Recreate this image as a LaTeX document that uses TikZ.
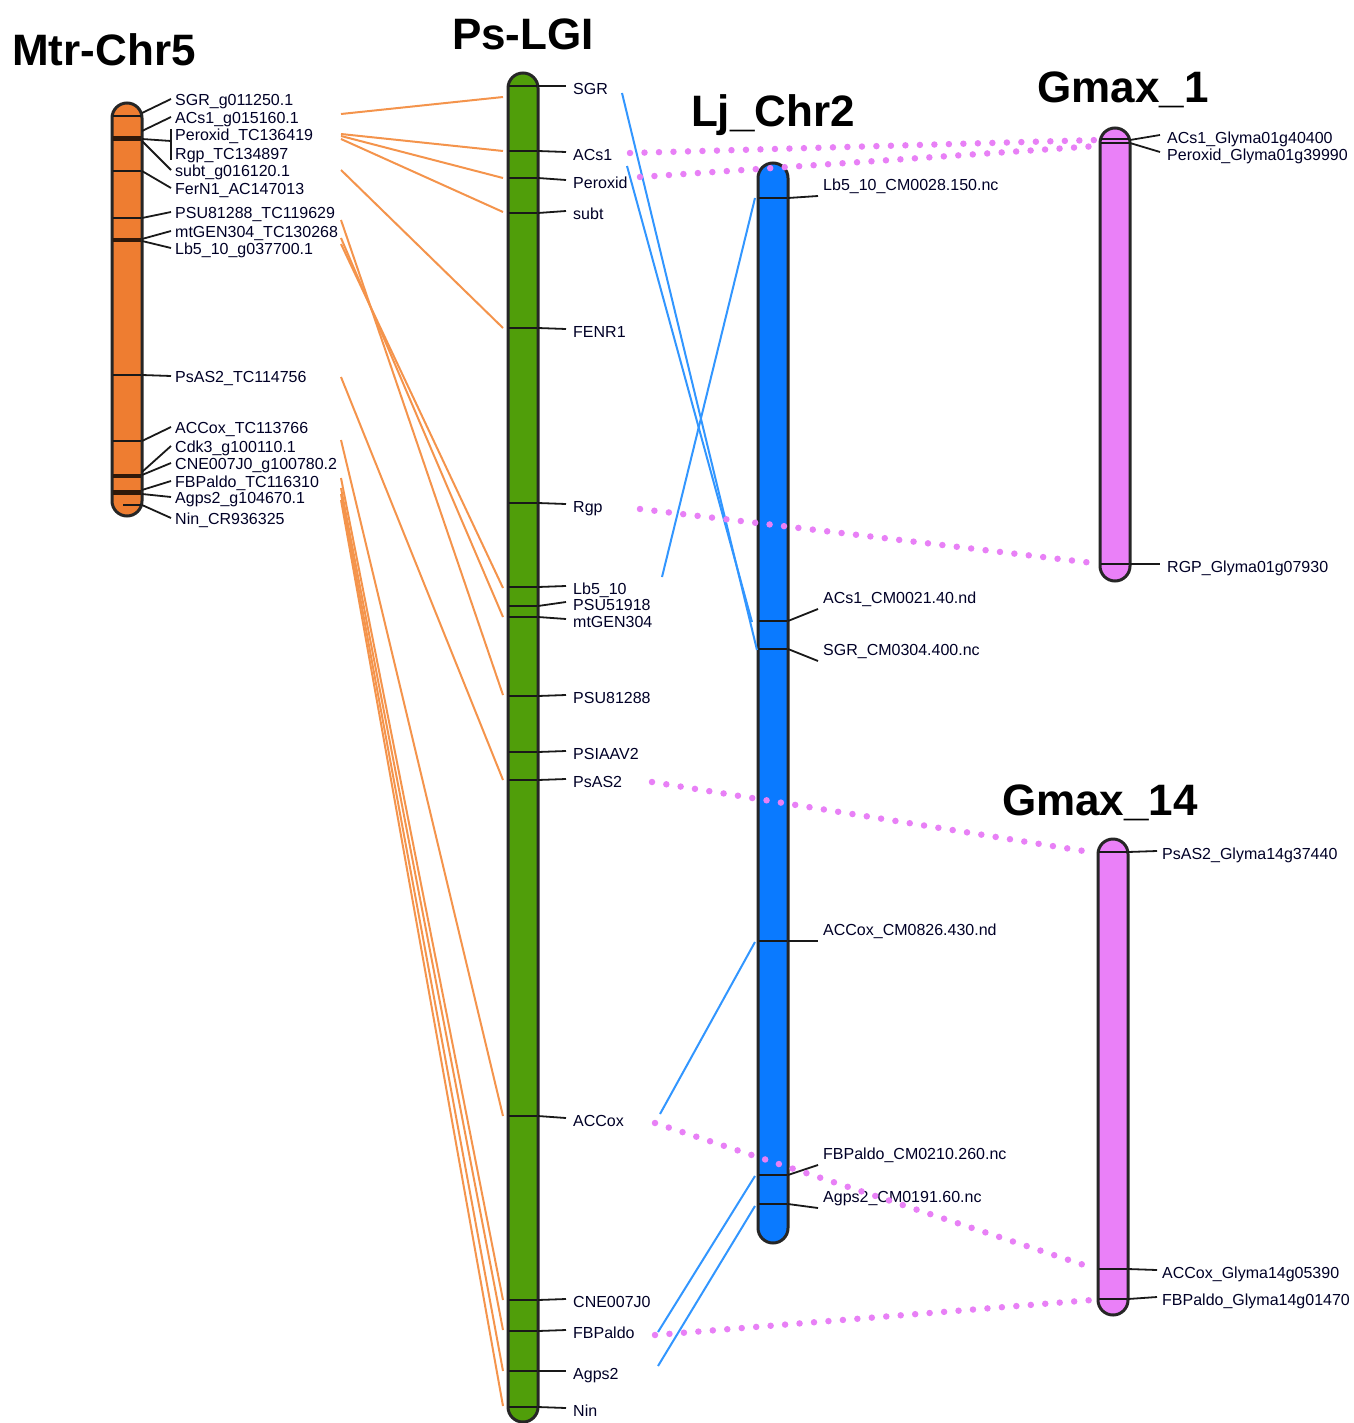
\documentclass[tikz,border=0pt]{standalone}
\usepackage{fontspec}
\setmainfont{Liberation Sans}
\definecolor{mtrorange}{RGB}{238,125,49}
\definecolor{psgreen}{RGB}{80,158,10}
\definecolor{ljblue}{RGB}{10,122,255}
\definecolor{gmaxpink}{RGB}{234,128,248}
\definecolor{orlinkcol}{RGB}{244,148,76}
\definecolor{bllinkcol}{RGB}{50,150,255}
\definecolor{dotcol}{RGB}{232,128,246}
\begin{document}
\begin{tikzpicture}[x=1pt,y=-1pt,
                chrom/.style={draw=black!85,line width=3pt,rounded corners=15pt,minimum width=30pt,inner sep=0pt},
                band/.style={black!90,line width=2pt},
                darkband/.style={black!80!mtrorange,line width=4.5pt},
                lead/.style={black!90,line width=1.8pt},
                glab/.style={anchor=west,inner sep=0pt,text height=11pt,text depth=0pt,font=\fontsize{16}{18}\selectfont,text=black!85!blue},
                chrname/.style={anchor=base,inner sep=0pt,font=\fontsize{44}{48}\selectfont\bfseries},
                orlink/.style={orlinkcol,line width=2pt},
                bllink/.style={bllinkcol,line width=2pt},
                dotlink/.style={dotcol,line width=6.5pt,line cap=round,dash pattern=on 0pt off 14.5pt}]
                \useasboundingbox (0,0) rectangle (1353,1423);

                \node[chrname] (t-mtr) at (104,66) {Mtr-Chr5};
                \node[chrname] (t-ps) at (523,50) {Ps-LGI};
                \node[chrname] (t-lj) at (773,127) {Lj\_Chr2};
                \node[chrname] (t-g1) at (1123,103) {Gmax\_1};
                \node[chrname] (t-g14) at (1100,815) {Gmax\_14};

                \node[chrom,fill=mtrorange,minimum height=413pt] (mtr) at (127,309.5) {};
                \node[chrom,fill=psgreen,minimum height=1349pt] (ps) at (523,747.5) {};
                \node[chrom,fill=ljblue,minimum height=1080pt] (lj) at (773,703) {};
                \node[chrom,fill=gmaxpink,minimum height=453pt] (g1) at (1115,354.5) {};
                \node[chrom,fill=gmaxpink,minimum height=476pt] (g14) at (1113,1077) {};

                \foreach \y in {116,171,218,375,441}
                    \draw[band] (113,\y) -- (141,\y);
                \foreach \y in {138.5,240,476,492.5}
                    \draw[darkband] (113,\y) -- (141,\y);
                \draw[band] (123,505) -- (141,505);
                \foreach \y in {86,151,178,213,328,503,587,606,617,696,752,780,1116,1300,1331,1371,1407}
                    \draw[band] (509,\y) -- (537,\y);
                \foreach \y in {198,621,649,941,1175,1204}
                    \draw[band] (759,\y) -- (787,\y);
                \foreach \y in {139,143,564}
                    \draw[band] (1101,\y) -- (1129,\y);
                \foreach \y in {852,1269,1299}
                    \draw[band] (1099,\y) -- (1127,\y);

                \node[glab] (m-sgr) at (175,100) {SGR\_g011250.1};
                \node[glab] (m-acs) at (175,118) {ACs1\_g015160.1};
                \node[glab] (m-per) at (175,135) {Peroxid\_TC136419};
                \node[glab] (m-rgp) at (175,154) {Rgp\_TC134897};
                \node[glab] (m-sub) at (175,171) {subt\_g016120.1};
                \node[glab] (m-fer) at (175,189) {FerN1\_AC147013};
                \node[glab] (m-psu) at (175,213) {PSU81288\_TC119629};
                \node[glab] (m-mtg) at (175,232) {mtGEN304\_TC130268};
                \node[glab] (m-lb) at (175,249) {Lb5\_10\_g037700.1};
                \node[glab] (m-psas) at (175,377) {PsAS2\_TC114756};
                \node[glab] (m-acc) at (175,428) {ACCox\_TC113766};
                \node[glab] (m-cdk) at (175,447) {Cdk3\_g100110.1};
                \node[glab] (m-cne) at (175,464) {CNE007J0\_g100780.2};
                \node[glab] (m-fbp) at (175,482) {FBPaldo\_TC116310};
                \node[glab] (m-agp) at (175,498) {Agps2\_g104670.1};
                \node[glab] (m-nin) at (175,519) {Nin\_CR936325};
                \foreach \n/\y in {sgr/113,acs/131,sub/141,fer/171,psu/218,mtg/239,lb/241,psas/375,acc/441,cdk/472,cne/475,fbp/490,agp/494,nin/505}
                    \draw[lead] (142,\y) -- ([xshift=-4pt,yshift=1pt]m-\n.west);
                \draw[lead] (142,139) -- (171,141);
                \draw[lead] ([xshift=-4pt]m-per.north west) -- ([xshift=-4pt]m-rgp.south west);

                \node[glab] (p-sgr) at (573,89) {SGR};
                \node[glab] (p-acs) at (573,155) {ACs1};
                \node[glab] (p-per) at (573,183) {Peroxid};
                \node[glab] (p-sub) at (573,214) {subt};
                \node[glab] (p-fen) at (573,332) {FENR1};
                \node[glab] (p-rgp) at (573,507) {Rgp};
                \node[glab] (p-lb) at (573,589) {Lb5\_10};
                \node[glab] (p-psu5) at (573,605) {PSU51918};
                \node[glab] (p-mtg) at (573,622) {mtGEN304};
                \node[glab] (p-psu8) at (573,698) {PSU81288};
                \node[glab] (p-psi) at (573,754) {PSIAAV2};
                \node[glab] (p-psas) at (573,782) {PsAS2};
                \node[glab] (p-acc) at (573,1121) {ACCox};
                \node[glab] (p-cne) at (573,1302) {CNE007J0};
                \node[glab] (p-fbp) at (573,1333) {FBPaldo};
                \node[glab] (p-agp) at (573,1374) {Agps2};
                \node[glab] (p-nin) at (573,1411) {Nin};
                \foreach \n/\y in {sgr/86,acs/151,per/178,sub/213,fen/328,rgp/503,lb/587,psu5/606,mtg/617,psu8/696,psi/752,psas/780,acc/1116,cne/1300,fbp/1331,agp/1371,nin/1407}
                    \draw[lead] (538,\y) -- ([xshift=-7pt,yshift=3pt]p-\n.west);

                \node[glab] (l-lb) at (823,185) {Lb5\_10\_CM0028.150.nc};
                \node[glab] (l-acs) at (823,598) {ACs1\_CM0021.40.nd};
                \node[glab] (l-sgr) at (823,650) {SGR\_CM0304.400.nc};
                \node[glab] (l-acc) at (823,930) {ACCox\_CM0826.430.nd};
                \node[glab] (l-fbp) at (823,1154) {FBPaldo\_CM0210.260.nc};
                \node[glab] (l-agp) at (823,1197) {Agps2\_CM0191.60.nc};
                \foreach \n/\y in {lb/198,acs/621,sgr/649,acc/941,fbp/1175,agp/1204}
                    \draw[lead] (788,\y) -- ([xshift=-5pt,yshift=-5.5pt]l-\n.base west);

                \node[glab] (g1-acs) at (1167,138) {ACs1\_Glyma01g40400};
                \node[glab] (g1-per) at (1167,155) {Peroxid\_Glyma01g39990};
                \node[glab] (g1-rgp) at (1167,567) {RGP\_Glyma01g07930};
                \foreach \n/\y in {acs/140,per/143,rgp/564}
                    \draw[lead] (1130,\y) -- ([xshift=-7pt,yshift=3pt]g1-\n.west);

                \node[glab] (g14-psas) at (1162,854) {PsAS2\_Glyma14g37440};
                \node[glab] (g14-acc) at (1162,1273) {ACCox\_Glyma14g05390};
                \node[glab] (g14-fbp) at (1162,1300) {FBPaldo\_Glyma14g01470};
                \foreach \n/\y in {psas/852,acc/1269,fbp/1299}
                    \draw[lead] (1128,\y) -- ([xshift=-5pt,yshift=3pt]g14-\n.west);

                \foreach \n/\y in {sgr/114,acs/134,per/136,sub/139,fer/170,psu/220,mtg/238,lb/244,psas/377,acc/440,cne/478,fbp/488,agp/494,nin/500}
                    \coordinate (mo-\n) at (341,\y);
                \foreach \n/\y in {sgr/97,acs/151,per/178,sub/212,fer/328,psu/695,mtg/617,lb/588,psas/780,acc/1116,cne/1300,fbp/1330,agp/1371,nin/1406}
                    \coordinate (po-\n) at (503,\y);
                \foreach \n in {sgr,acs,per,sub,fer,psu,mtg,lb,psas,acc,cne,fbp,agp,nin}
                    \draw[orlink] (mo-\n) -- (po-\n);

                \coordinate (pb-sgr) at (622,93);
                \coordinate (pb-acs) at (627,166);
                \coordinate (pb-lb) at (662,577);
                \coordinate (pb-acc) at (660,1114);
                \coordinate (pb-fbp) at (658,1332);
                \coordinate (pb-agp) at (658,1366);
                \coordinate (lb-sgr) at (757,650);
                \coordinate (lb-acs) at (752,622);
                \coordinate (lb-lb) at (755,198);
                \coordinate (lb-acc) at (755,942);
                \coordinate (lb-fbp) at (755,1176);
                \coordinate (lb-agp) at (755,1206);
                \foreach \n in {sgr,acs,lb,acc,fbp,agp}
                    \draw[bllink] (pb-\n) -- (lb-\n);

                \coordinate (pd-acs) at (630,153);
                \coordinate (pd-per) at (640,177);
                \coordinate (pd-rgp) at (640,509);
                \coordinate (pd-psas) at (652,782);
                \coordinate (pd-acc) at (655,1123);
                \coordinate (pd-fbp) at (655,1335);
                \coordinate (gd-acs) at (1097,140);
                \coordinate (gd-per) at (1097,146);
                \coordinate (gd-rgp) at (1093,563);
                \coordinate (gd-psas) at (1090,852);
                \coordinate (gd-acc) at (1090,1267);
                \coordinate (gd-fbp) at (1092,1300);
                \foreach \n in {acs,per,rgp,psas,acc,fbp}
                    \draw[dotlink] (pd-\n) -- (gd-\n);
                \end{tikzpicture}
\end{document}
